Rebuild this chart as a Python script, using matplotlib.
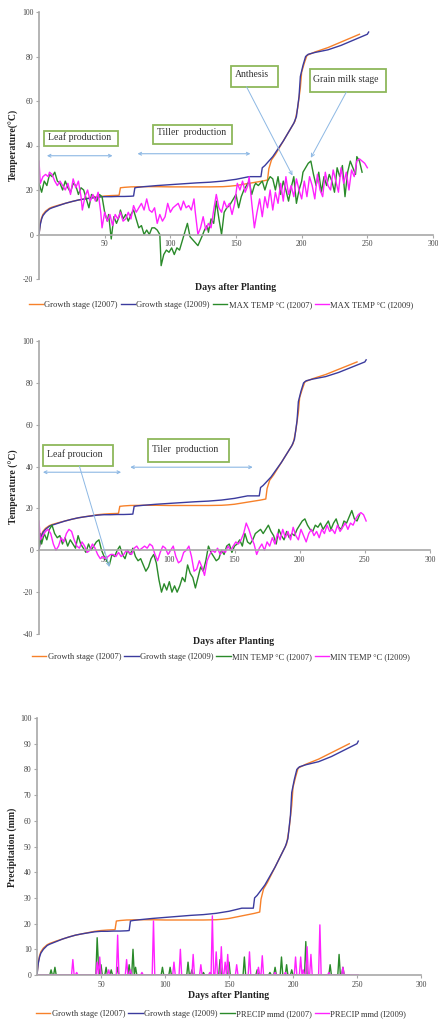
import numpy as np
import matplotlib
matplotlib.use("Agg")
import matplotlib.pyplot as plt
from matplotlib.patches import Rectangle

plt.rcParams['font.family'] = ['Liberation Serif', 'DejaVu Serif']
plt.rcParams['axes.unicode_minus'] = False

# ---------------- data ----------------
# Growth stage (Zadoks-type scale) versus days after planting
gs07_day = [0, 1, 2, 3, 5, 8, 10, 15, 20, 25, 30, 35, 40, 45, 50, 55, 60, 61, 62, 65, 70, 80, 90,
            100, 110, 120, 130, 140, 145, 150, 155, 160, 165, 170, 174, 175, 176, 177, 180, 185,
            190, 195, 197, 199, 200, 202, 204, 210, 220, 230, 240, 244]
gs07_val = [0, 5, 7.5, 9, 10.5, 11.8, 12.3, 13.2, 14.0, 14.8, 15.5, 16.0, 16.5, 17.0, 17.3, 17.5,
            17.6, 17.7, 21.0, 21.2, 21.4, 21.5, 21.5, 21.4, 21.4, 21.4, 21.4, 21.5, 21.7, 22.0,
            22.5, 23.0, 23.5, 24.0, 24.5, 29.5, 31.5, 33.5, 36, 41, 46, 51, 57, 66, 73, 77, 80.5,
            82, 84, 86.5, 89, 90]

gs09_day = [0, 1, 2, 3, 5, 8, 10, 15, 20, 25, 30, 35, 40, 45, 50, 55, 60, 65, 70, 72, 73, 75, 80,
            90, 100, 110, 120, 130, 140, 150, 155, 160, 165, 169, 170, 172, 175, 178, 182, 186,
            190, 194, 196, 198, 199, 201, 203, 205, 210, 220, 230, 240, 250, 251]
gs09_val = [0, 4.5, 7, 8.5, 10, 11.5, 12, 13, 14, 14.8, 15.5, 16, 16.4, 16.8, 17, 17, 17.1, 17.1,
            17.2, 17.3, 21.0, 21.2, 21.5, 22, 22.4, 22.8, 23.2, 23.5, 24, 24.8, 25.4, 26, 26, 26,
            30, 31, 33, 35, 38.5, 42, 46, 50, 53, 62, 71, 76, 80, 81, 81.8, 83, 85, 87.5, 90, 91]

# Maximum temperature (degC)
tmax07_day = [0, 1, 2, 4, 6, 8, 10, 12, 14, 16, 18, 20, 22, 24, 26, 28, 30, 32, 34, 36, 38, 40, 42,
              44, 46, 48, 50, 52, 53, 55, 57, 59, 61, 62, 64, 66, 68, 70, 72, 74, 76, 78, 80, 82,
              84, 86, 88, 90, 92, 93, 95, 97, 99, 101, 103, 105, 107, 109, 111, 113, 115, 118,
              121, 124, 126, 128, 129, 131, 133, 135, 137, 139, 141, 143, 145, 147, 150, 152, 154,
              156, 158, 160, 162, 164, 165, 167, 170, 172, 174, 176, 178, 180, 182, 184, 186, 188,
              190, 192, 194, 196, 198, 200, 201, 203, 205, 207, 209, 211, 213, 215, 217, 219, 221,
              223, 225, 227, 229, 231, 233, 235, 237, 239, 241, 242, 244, 246]
tmax07_val = [23, 21, 19, 24, 22, 27, 26, 28, 24, 23, 20, 24, 21, 19, 23, 22, 18, 21, 20, 16, 12,
              18, 17, 15, 18, 17, 10, 6, 9, -2, 8, 5, 8, 11, 7, 9, 6, 9, 11, 7, 3, 4, 0, 2, 0, 3,
              3, 2, 0, -14, -9, -7, -8, -6, -9, -6, -7, -3, 1, 5, -1, -3, -5, -1, 2, 4, 1, 7, 5,
              15, 7, 0, 10, 12, 13, 15, 18, 12, 17, 20, 22, 24, 18, 22, 23, 22, 24, 20, 24, 26,
              25, 20, 26, 18, 24, 20, 15, 21, 26, 14, 20, 24, 28, 30, 32, 33, 27, 22, 28, 19, 26,
              22, 27, 24, 19, 30, 26, 31, 17, 28, 33, 30, 27, 35, 33, 28]

tmax09_day = [0, 1, 3, 5, 7, 8, 10, 12, 14, 16, 18, 20, 22, 24, 26, 28, 30, 32, 33, 35, 37, 39, 41,
              43, 45, 47, 48, 50, 52, 54, 56, 58, 60, 62, 64, 66, 68, 70, 72, 74, 76, 78, 80, 82,
              84, 86, 88, 90, 92, 94, 96, 98, 100, 102, 104, 106, 108, 110, 112, 114, 116, 118,
              119, 121, 123, 125, 127, 129, 131, 133, 135, 137, 139, 141, 143, 145, 147, 149, 151,
              153, 155, 157, 159, 160, 162, 164, 166, 168, 170, 172, 174, 176, 178, 180, 182, 184,
              186, 188, 190, 192, 194, 196, 198, 200, 202, 204, 206, 208, 210, 212, 214, 216, 218,
              220, 222, 224, 226, 228, 230, 232, 234, 236, 238, 240, 242, 244, 246, 248, 250]
tmax09_val = [33, 23, 26, 27, 26, 28, 27, 24, 22, 24, 22, 20, 23, 18, 25, 21, 24, 17, 11, 17, 20,
              15, 18, 15, 19, 10, 3, 10, 6, 9, 4, 9, 7, 10, 6, 7, 10, 7, 13, 10, 12, 14, 11, 16,
              11, 10, 12, 5, 9, 6, 8, 14, 10, 12, 13, 14, 11, 15, 12, 13, 11, 16, 10, 0, 3, 8, 2,
              5, 3, 11, 18, 12, 10, 15, 12, 14, 9, 14, 23, 20, 24, 19, 22, 26, 14, 3, 10, 16, 8,
              17, 12, 20, 11, 19, 14, 23, 15, 26, 18, 22, 17, 25, 20, 16, 24, 17, 26, 22, 16, 27,
              20, 17, 28, 22, 20, 29, 24, 19, 30, 23, 28, 20, 29, 26, 33, 34, 33, 32, 30]

# Minimum temperature (degC)
tmin07_day = [0, 1, 2, 4, 6, 8, 10, 12, 14, 16, 18, 20, 22, 24, 26, 28, 30, 32, 34, 36, 38, 40, 42,
              44, 46, 48, 50, 52, 54, 56, 58, 60, 62, 64, 66, 68, 70, 72, 74, 76, 78, 80, 82, 84,
              86, 88, 90, 92, 94, 96, 98, 100, 102, 104, 106, 108, 110, 112, 114, 116, 118, 120,
              122, 124, 126, 128, 130, 132, 134, 136, 138, 140, 142, 144, 146, 148, 150, 152, 154,
              156, 158, 160, 162, 164, 166, 168, 170, 172, 174, 176, 178, 180, 182, 184, 186, 188,
              190, 192, 194, 196, 198, 200, 202, 204, 206, 208, 210, 212, 214, 216, 218, 220, 222,
              224, 226, 228, 230, 232, 234, 236, 238, 240, 242, 244, 246]
tmin07_val = [2, 8, 3, 8, 5, 10, 12, 8, 6, 7, 3, 6, 2, 5, 3, 1, 7, 3, 1, -1, 3, 0, 2, 4, 5, 0, -3,
              -5, -7, -2, -3, 0, 2, -2, -4, 0, -2, 1, -3, -5, -4, -7, -10, -8, -4, -2, -6, -14,
              -20, -16, -19, -15, -20, -17, -20, -17, -13, -15, -7, -11, -13, -18, -13, -8, -10,
              -5, 2, -1, -3, -5, -4, 0, -2, 2, 3, -1, 2, 3, 5, 2, 8, 4, 3, 5, 8, 9, 10, 8, 10, 12,
              9, 7, 3, 10, 7, 5, 9, 6, 8, 7, 10, 12, 14, 15, 12, 10, 9, 12, 11, 13, 10, 12, 14,
              10, 13, 15, 11, 10, 14, 13, 16, 19, 15, 14, 17]

tmin09_day = [0, 1, 3, 5, 7, 9, 11, 13, 15, 17, 19, 21, 23, 25, 27, 29, 31, 33, 35, 37, 39, 41, 43,
              45, 47, 49, 51, 53, 55, 57, 59, 61, 63, 65, 67, 69, 71, 73, 75, 77, 79, 81, 83, 85,
              87, 89, 91, 93, 95, 97, 99, 101, 103, 105, 107, 109, 111, 113, 115, 117, 119, 121,
              123, 125, 127, 129, 131, 133, 135, 137, 139, 141, 143, 145, 147, 149, 151, 153, 155,
              157, 159, 161, 163, 165, 167, 169, 171, 173, 175, 177, 179, 181, 183, 185, 187, 189,
              191, 193, 195, 197, 199, 201, 203, 205, 207, 209, 211, 213, 215, 217, 219, 221, 223,
              225, 227, 229, 231, 233, 235, 237, 239, 241, 243, 245, 247, 249, 251]
tmin09_val = [14, 5, 7, 9, 10, 8, 3, 0, 2, 6, 4, 8, 10, 9, 5, 2, 1, 4, 2, -1, 0, 3, 1, -2, -4, -3,
              -4, -3, -2, -2, -3, -1, -3, -2, 0, -1, -2, 1, 2, 0, 1, 2, 1, 3, 2, -2, -5, -1, 2, 1,
              -2, 0, 2, -3, -6, -5, -1, 0, 2, -3, -10, -9, -5, -8, -12, -5, -2, 0, -1, 1, -2, 0,
              -1, 2, 0, 2, 4, 3, 5, 8, 13, 10, 6, 3, -2, 1, 3, 0, 4, 2, 6, 3, 8, 5, 10, 6, 9, 5,
              11, 7, 5, 10, 7, 4, 8, 10, 7, 9, 6, 10, 8, 12, 9, 10, 8, 12, 9, 11, 13, 10, 13, 12,
              15, 17, 18, 17, 14]

# Daily precipitation (mm/d): rain days, all other days are dry
rain07_day = [11, 14, 47, 48, 50, 54, 58, 63, 72, 75, 77, 98, 104, 118, 121, 130, 143, 150, 162,
              172, 182, 186, 191, 195, 199, 210, 229, 236, 239]
rain07_val = [2, 3, 14.5, 4, 4, 3, 2, 3, 4, 10, 3, 3, 3, 5, 2, 1, 6, 5, 7, 2, 1, 3, 7, 4, 2, 13,
              4, 8, 3]
rain07_last = 244

rain09_day = [28, 31, 47, 49, 56, 63, 70, 73, 82, 91, 107, 112, 122, 128, 135, 137, 140, 144, 147,
              149, 156, 166, 173, 176, 186, 194, 202, 206, 208, 211, 214, 221, 228, 239]
rain09_val = [6, 1, 5, 7, 2, 15.5, 6, 2, 1, 21, 5, 10, 8, 4, 1, 23, 9, 11, 5, 8, 4, 9, 3, 7.5, 1,
              1, 7, 7, 2, 11, 8, 19.5, 1, 3]
rain09_last = 251

labels_gs = ["Growth stage (I2007)", "Growth stage (I2009)"]

# ---------------- styling ----------------
C_07GS = "#F7812A"
C_09GS = "#3B3B9E"
C_07 = "#2A8A2A"
C_09 = "#FF22FF"
C_ARROW = "#8DB8E4"
C_BOX = "#8DB85A"
C_SPINE = "#A8A8A8"
LW = 1.0

W, H = 438, 1023
fig = plt.figure(figsize=(W / 100, H / 100), dpi=100)


def px_axes(left, right, top, bottom):
    return fig.add_axes([left / W, 1 - bottom / H, (right - left) / W, (bottom - top) / H])


def style_axes(ax, ymin, ymax, ystep):
    ax.set_xlim(0, 300)
    ax.set_ylim(ymin, ymax)
    for s in ("top", "right"):
        ax.spines[s].set_visible(False)
    ax.spines["bottom"].set_position(("data", 0))
    for s in ("left", "bottom"):
        ax.spines[s].set_color(C_SPINE)
        ax.spines[s].set_linewidth(1.2)
    ax.set_xticks(np.arange(50, 301, 50))
    ax.set_yticks(np.arange(ymin, ymax + 1, ystep))
    ax.tick_params(axis="both", colors=C_SPINE, labelcolor="#444444", labelsize=5.6,
                   length=2.5, width=0.8, pad=1.5)
    ax.tick_params(axis="x", direction="out")
    ax.patch.set_alpha(0)


def rain_series(days, vals, last):
    d = np.arange(0, last + 1)
    v = np.zeros(len(d))
    v[np.array(days)] = vals
    return d, v


def box_label(ax, x0, x1, y0, y1, text):
    ax.add_patch(Rectangle((x0, y0), x1 - x0, y1 - y0, facecolor="white",
                           edgecolor=C_BOX, lw=1.3, zorder=5))
    ax.text(x0 + 3, (y0 + y1) / 2 + 0.6, text, fontsize=7, color="#333333",
            ha="left", va="center", zorder=6)


def span_arrow(ax, x0, x1, y):
    ax.annotate("", xy=(x1, y), xytext=(x0, y),
                arrowprops=dict(arrowstyle="<->", color=C_ARROW, lw=0.8,
                                shrinkA=0, shrinkB=0, mutation_scale=5), zorder=6)


def point_arrow(ax, xy_from, xy_to):
    ax.annotate("", xy=xy_to, xytext=xy_from,
                arrowprops=dict(arrowstyle="->", color=C_ARROW, lw=0.7,
                                shrinkA=0, shrinkB=0, mutation_scale=6), zorder=6)


def axis_texts(xc, xl_y, yl_x, yl_y, xlabel, ylabel):
    fig.text(xc / W, 1 - xl_y / H, xlabel, ha="center", va="center",
             fontsize=7, fontweight="bold", color="#222222")
    fig.text(yl_x / W, 1 - yl_y / H, ylabel, ha="center", va="center",
             fontsize=7, fontweight="bold", rotation=90, color="#222222")


def legend(ax, handles, labels, yc):
    ax.legend(handles, labels, loc="center", bbox_to_anchor=(0.505, 1 - yc / H),
              bbox_transform=fig.transFigure, ncol=4, frameon=False, fontsize=6.1,
              handlelength=1.7, handletextpad=0.15, columnspacing=0.35, borderaxespad=0,
              labelcolor="#333333")


# ---------------- panel 1: maximum temperature ----------------
ax1 = px_axes(39, 433, 12, 279)
style_axes(ax1, -20, 100, 20)
h1 = ax1.plot(gs07_day, gs07_val, color=C_07GS, lw=LW)[0]
h2 = ax1.plot(gs09_day, gs09_val, color=C_09GS, lw=LW)[0]
h3 = ax1.plot(tmax07_day, tmax07_val, color=C_07, lw=LW)[0]
h4 = ax1.plot(tmax09_day, tmax09_val, color=C_09, lw=LW)[0]
box_label(ax1, 4, 60, 40, 46.3, "Leaf production")
span_arrow(ax1, 6, 56, 35.4)
box_label(ax1, 87, 147, 40.8, 49.3, "Tiller  production")
span_arrow(ax1, 75, 161, 36.3)
box_label(ax1, 146, 182, 66.4, 75.8, "Anthesis")
point_arrow(ax1, (158, 66.4), (193, 26.5))
box_label(ax1, 206, 264, 64, 74.4, "Grain milk stage")
point_arrow(ax1, (234, 64), (207, 34.5))
axis_texts(236, 287, 14, 145, "Days after Planting", "Temperature(°C)")
legend(ax1, [h1, h2, h3, h4],
       labels_gs + ["MAX TEMP °C (I2007)", "MAX TEMP °C (I2009)"], 305)

# ---------------- panel 2: minimum temperature ----------------
ax2 = px_axes(39, 430, 341, 634)
style_axes(ax2, -40, 100, 20)
g1 = ax2.plot(gs07_day, gs07_val, color=C_07GS, lw=LW)[0]
g2 = ax2.plot(gs09_day, gs09_val, color=C_09GS, lw=LW)[0]
g3 = ax2.plot(tmin07_day, tmin07_val, color=C_07, lw=LW)[0]
g4 = ax2.plot(tmin09_day, tmin09_val, color=C_09, lw=LW)[0]
box_label(ax2, 3, 57, 40.2, 50.2, "Leaf proucion")
span_arrow(ax2, 3, 63, 37.3)
point_arrow(ax2, (31, 40.2), (54, -8))
box_label(ax2, 84, 146, 42, 53, "Tiler  production")
span_arrow(ax2, 70, 164, 39.7)
axis_texts(234, 641, 14, 487, "Days after Planting", "Temperature (°C)")
legend(ax2, [g1, g2, g3, g4],
       labels_gs + ["MIN TEMP °C (I2007)", "MIN TEMP °C (I2009)"], 657)

# ---------------- panel 3: precipitation ----------------
ax3 = px_axes(37, 421, 718, 975)
style_axes(ax3, 0, 100, 10)
r07d, r07v = rain_series(rain07_day, rain07_val, rain07_last)
r09d, r09v = rain_series(rain09_day, rain09_val, rain09_last)
p1 = ax3.plot(gs07_day, gs07_val, color=C_07GS, lw=LW)[0]
p2 = ax3.plot(gs09_day, gs09_val, color=C_09GS, lw=LW)[0]
p3 = ax3.plot(r07d, r07v, color=C_07, lw=LW)[0]
p4 = ax3.plot(r09d, r09v, color=C_09, lw=LW)[0]
axis_texts(229, 995, 12, 847, "Days after Planting", "Precipitation (mm)")
legend(ax3, [p1, p2, p3, p4],
       labels_gs + ["PRECIP mmd (I2007)", "PRECIP mmd (I2009)"], 1014)

fig.savefig("out.png", dpi=100)
